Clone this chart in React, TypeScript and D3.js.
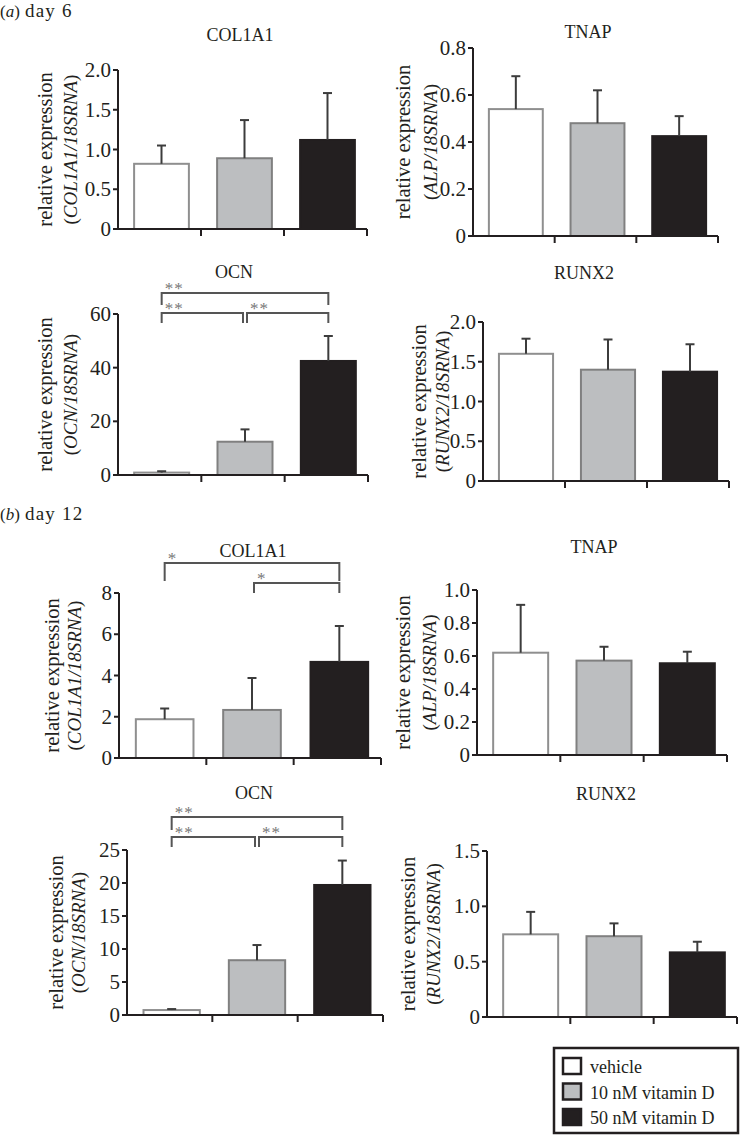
import React from 'react';
import * as d3 from 'd3';

const width = 740;
const height = 1135;
const font = '"Liberation Serif", "Times New Roman", serif';
const ink = '#231f20';

// groups / legend
const groups = ['vehicle', '10 nM vitamin D', '50 nM vitamin D'];
const fills = ['#ffffff', '#bcbec0', '#231f20'];
const strokes = ['#8f8f8f', '#808080', '#231f20'];

// day 6 (mean, top of error bar)
const d6Col1a1 = [0.82, 0.89, 1.12];
const d6Col1a1Up = [1.05, 1.37, 1.71];
const d6Tnap = [0.54, 0.48, 0.425];
const d6TnapUp = [0.68, 0.62, 0.51];
const d6Ocn = [0.9, 12.4, 42.5];
const d6OcnUp = [1.4, 17.0, 51.8];
const d6Runx2 = [1.6, 1.4, 1.375];
const d6Runx2Up = [1.79, 1.78, 1.72];

// day 12
const d12Col1a1 = [1.88, 2.33, 4.66];
const d12Col1a1Up = [2.4, 3.88, 6.4];
const d12Tnap = [0.62, 0.572, 0.556];
const d12TnapUp = [0.91, 0.656, 0.626];
const d12Ocn = [0.75, 8.3, 19.7];
const d12OcnUp = [0.9, 10.6, 23.4];
const d12Runx2 = [0.747, 0.73, 0.584];
const d12Runx2Up = [0.95, 0.846, 0.68];

// y ticks
const ticksCol6 = [0, 0.5, 1.0, 1.5, 2.0];
const ticksTnap6 = [0, 0.2, 0.4, 0.6, 0.8];
const ticksOcn6 = [0, 20, 40, 60];
const ticksRunx6 = [0, 0.5, 1.0, 1.5, 2.0];
const ticksCol12 = [0, 2, 4, 6, 8];
const ticksTnap12 = [0, 0.2, 0.4, 0.6, 0.8, 1.0];
const ticksOcn12 = [0, 5, 10, 15, 20, 25];
const ticksRunx12 = [0, 0.5, 1.0, 1.5];

// significance brackets
const sigOcn6 = [
  { from: 0, to: 2, level: 1, label: '**' },
  { from: 0, to: 1, level: 0, label: '**' },
  { from: 1, to: 2, level: 0, label: '**' },
];
const sigCol12 = [
  { from: 0, to: 2, level: 1, label: '*' },
  { from: 1, to: 2, level: 0, label: '*' },
];
const sigOcn12 = sigOcn6;

const panels = [
  { title: 'COL1A1', gene: 'COL1A1', values: d6Col1a1, upper: d6Col1a1Up, ticks: ticksCol6, dec: true, sig: [],
    left: 118, right: 367, top: 70, bottom: 229, tx: 240, ty: 41, l1: 52, l2: 77 },
  { title: 'TNAP', gene: 'ALP', values: d6Tnap, upper: d6TnapUp, ticks: ticksTnap6, dec: true, sig: [],
    left: 473, right: 718, top: 48, bottom: 236, tx: 588, ty: 38, l1: 410, l2: 437 },
  { title: 'OCN', gene: 'OCN', values: d6Ocn, upper: d6OcnUp, ticks: ticksOcn6, dec: false, sig: sigOcn6,
    left: 118, right: 368, top: 314, bottom: 475, tx: 234, ty: 278, l1: 52, l2: 77, by: 313, upLeg: 12 },
  { title: 'RUNX2', gene: 'RUNX2', values: d6Runx2, upper: d6Runx2Up, ticks: ticksRunx6, dec: true, sig: [],
    left: 483, right: 729, top: 322, bottom: 481, tx: 584, ty: 279, l1: 426, l2: 449 },
  { title: 'COL1A1', gene: 'COL1A1', values: d12Col1a1, upper: d12Col1a1Up, ticks: ticksCol12, dec: false, sig: sigCol12,
    left: 119, right: 381, top: 593, bottom: 758, tx: 253, ty: 557, l1: 59, l2: 81, by: 583, upLeg: 18 },
  { title: 'TNAP', gene: 'ALP', values: d12Tnap, upper: d12TnapUp, ticks: ticksTnap12, dec: true, sig: [],
    left: 477, right: 727, top: 590, bottom: 755, tx: 594, ty: 553, l1: 410, l2: 436 },
  { title: 'OCN', gene: 'OCN', values: d12Ocn, upper: d12OcnUp, ticks: ticksOcn12, dec: false, sig: sigOcn12,
    left: 127, right: 383, top: 850, bottom: 1015, tx: 254, ty: 799, l1: 63, l2: 85, by: 837, upLeg: 13 },
  { title: 'RUNX2', gene: 'RUNX2', values: d12Runx2, upper: d12Runx2Up, ticks: ticksRunx12, dec: true, sig: [],
    left: 487, right: 737, top: 851, bottom: 1017, tx: 606, ty: 800, l1: 415, l2: 440 },
];

function Panel({ p }: { p: any }) {
  const y = d3.scaleLinear().domain([0, d3.max(p.ticks) as number]).range([p.bottom, p.top]);
  const x = d3.scaleBand<number>().domain([0, 1, 2]).range([p.left, p.right]).padding(0);
  const bw = x.bandwidth() * 0.66;
  const barX = (i: number) => (x(i) as number) + (x.bandwidth() - bw) / 2 + 2;
  const cx = (i: number) => barX(i) + bw / 2;
  const fmt = p.dec ? d3.format('.1f') : d3.format('d');
  const tickLabel = (t: number) => (t === 0 ? '0' : fmt(t));
  const midY = (p.top + p.bottom) / 2;

  return (
    <g>
      <text x={p.tx} y={p.ty} textAnchor="middle" fontSize={18} fill={ink}>{p.title}</text>
      {/* y label */}
      <text transform={`translate(${p.l1},${midY}) rotate(-90)`} textAnchor="middle" fontSize={20.5} fill={ink}>relative expression</text>
      <text transform={`translate(${p.l2},${midY}) rotate(-90)`} textAnchor="middle" fontSize={19} fill={ink}>
        (<tspan fontStyle="italic">{p.gene}/18SRNA</tspan>)
      </text>
      {/* bars */}
      {p.values.map((v: number, i: number) => (
        <rect key={'b' + i} x={barX(i)} y={y(v)} width={bw} height={y(0) - y(v)}
          fill={fills[i]} stroke={strokes[i]} strokeWidth={2} />
      ))}
      {/* error bars */}
      {p.values.map((v: number, i: number) => (
        <g key={'e' + i} stroke="#3c3c3c" strokeWidth={2}>
          <line x1={cx(i)} x2={cx(i)} y1={y(v)} y2={y(p.upper[i])} />
          <line x1={cx(i) - 4.5} x2={cx(i) + 4.5} y1={y(p.upper[i])} y2={y(p.upper[i])} />
        </g>
      ))}
      {/* axes */}
      <line x1={p.left} x2={p.left} y1={p.top} y2={p.bottom} stroke={ink} strokeWidth={2} />
      <line x1={p.left} x2={p.right} y1={p.bottom} y2={p.bottom} stroke={ink} strokeWidth={2} />
      {p.ticks.map((t: number) => (
        <g key={'t' + t}>
          <line x1={p.left - 5} x2={p.left} y1={y(t)} y2={y(t)} stroke={ink} strokeWidth={2} />
          <text x={p.left - 7} y={y(t)} dy="0.34em" textAnchor="end" fontSize={21} fill={ink}>{tickLabel(t)}</text>
        </g>
      ))}
      {[1, 2, 3].map((i) => {
        const tx = i < 3 ? (x(i) as number) : p.right;
        return <line key={'x' + i} x1={tx} x2={tx} y1={p.bottom} y2={p.bottom + 7} stroke={ink} strokeWidth={2} />;
      })}
      {/* significance */}
      {p.sig.map((s: any, k: number) => {
        const by = p.by - s.level * 20;
        const leg = s.level === 0 ? 10 : p.upLeg;
        const x1 = cx(s.from) + (s.from === 1 ? 2 : 0);
        const x2 = cx(s.to) - (s.to === 1 ? 2 : 0);
        return (
          <g key={'s' + k}>
            <path d={`M${x1},${by + leg}V${by}H${x2}V${by + leg}`} fill="none" stroke="#555" strokeWidth={2} />
            <text x={x1 + 3} y={by + 1} fontSize={17} fill="#777" letterSpacing={1}>{s.label}</text>
          </g>
        );
      })}
    </g>
  );
}

export default function App() {
  return (
    <svg width={width} height={height} style={{ position: 'absolute', left: 0, top: 0, background: '#fff' }}
      fontFamily={font}>
      <rect width={width} height={height} fill="#fff" />
      <text x={0} y={17} fontSize={17} fill={ink}>(<tspan fontStyle="italic">a</tspan>)</text>
      <text x={25} y={17} fontSize={19} letterSpacing={1.2} fill={ink}>day 6</text>
      <text x={0} y={520} fontSize={17} fill={ink}>(<tspan fontStyle="italic">b</tspan>)</text>
      <text x={25} y={520} fontSize={19} letterSpacing={1.2} fill={ink}>day 12</text>
      {panels.map((p, i) => <Panel key={i} p={p} />)}
      {/* legend */}
      <g>
        <rect x={554} y={1048} width={184} height={85} fill="#fff" stroke={ink} strokeWidth={2.5} />
        {groups.map((g, i) => (
          <g key={g}>
            <rect x={563} y={1058 + i * 25.5} width={18} height={16} fill={fills[i]}
              stroke={ink} strokeWidth={2.5} />
            <text x={590} y={1073 + i * 25.5} fontSize={18} fill={ink}>{g}</text>
          </g>
        ))}
      </g>
    </svg>
  );
}
